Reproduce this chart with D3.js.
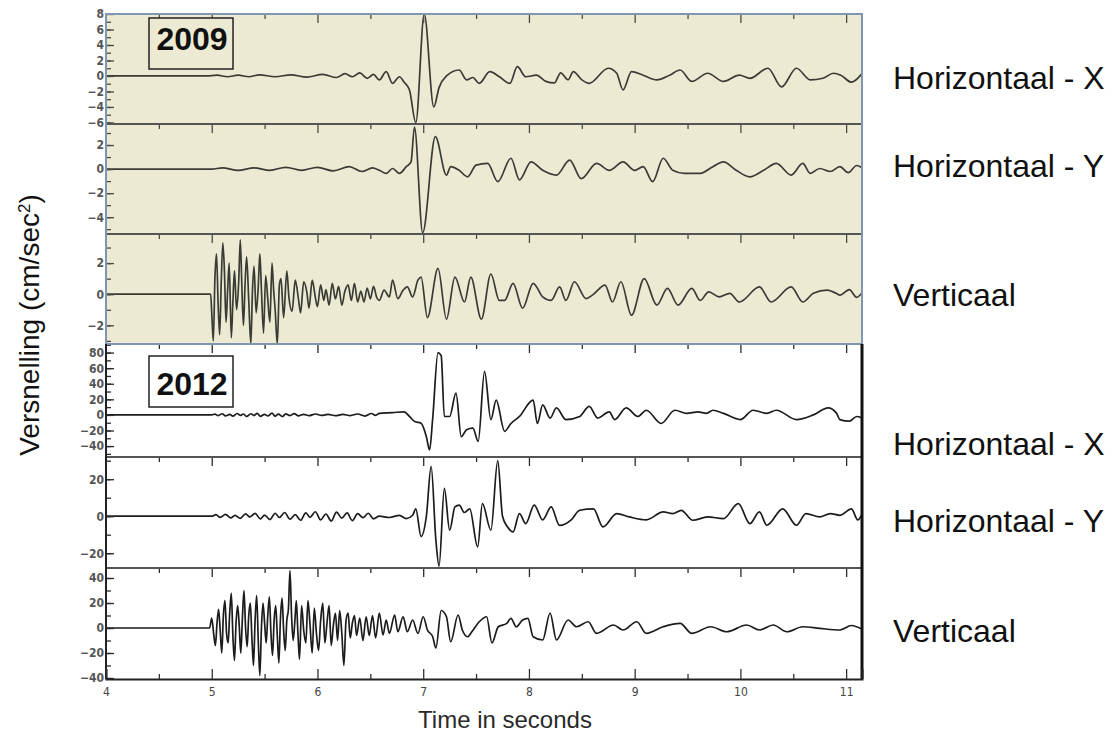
<!DOCTYPE html>
<html>
<head>
<meta charset="utf-8">
<script src="https://cdn.jsdelivr.net/npm/d3@7"></script>
<style>
body{margin:0;background:#fff;}
svg{display:block;font-family:"Liberation Sans",Arial,sans-serif;}
</style>
</head>
<body>
<svg id="chart" width="1112" height="735"></svg>
<script>
// time axis
var timeDomain=[4,11.15];
var timeTicks=[4,5,6,7,8,9,10,11];
var halfTicks=[4.5,5.5,6.5,7.5,8.5,9.5,10.5];

// panels, top to bottom
var years=["2009","2012"];
var panelNames=["Horizontaal - X","Horizontaal - Y","Verticaal","Horizontaal - X","Horizontaal - Y","Verticaal"];
var panelDomains=[[-6.2,8],[-5.4,3.75],[-3.2,3.87],[-54,91],[-28,32],[-40.8,48]];
var panelTickLabels=[[8,6,4,2,0,-2,-4,-6],[2,0,-2,-4],[2,0,-2],[80,60,40,20,0,-20,-40],[20,0,-20],[40,20,0,-20,-40]];
var panelMinorStep=[1,1,1,10,10,10];

// acceleration traces [seconds, cm/sec2]
var hx2009=[[4,0],[4.95,0],[5.05,0.1],[5.15,-0.1],[5.25,0.1],[5.35,-0.1],[5.45,0.15],[5.6,-0.1],[5.75,0.15],[5.9,-0.15],[6.05,0.2],[6.18,-0.2],[6.26,0.3],[6.33,-0.1],[6.4,0.4],[6.47,-0.3],[6.53,0.2],[6.585,-0.5],[6.65,0.56],[6.71,-0.95],[6.775,-0.1],[6.82,-0.8],[6.87,-1.8],[6.93,-6.0],[7.01,8.0],[7.1,-4.0],[7.15,-1.5],[7.22,0],[7.34,0.77],[7.41,-0.5],[7.47,-0.2],[7.53,-0.95],[7.63,0.56],[7.72,-0.1],[7.82,-0.95],[7.89,1.2],[7.97,-0.1],[8.07,0.1],[8.16,-0.7],[8.24,-0.9],[8.3,0.4],[8.37,-0.5],[8.42,0.56],[8.5,-0.5],[8.57,-0.95],[8.75,1.0],[8.83,0.35],[8.89,-1.8],[8.97,0.56],[9.08,0.1],[9.21,-0.5],[9.33,0.1],[9.43,0.77],[9.54,-0.7],[9.69,0.35],[9.84,-0.7],[9.99,0.1],[10.09,-0.3],[10.26,1.0],[10.39,-1.4],[10.53,1.0],[10.66,-0.5],[10.78,-0.3],[10.88,0.35],[10.95,0.1],[11.05,-0.8],[11.15,0.3]];
var hy2009=[[4,0],[5.0,0],[5.1,0.1],[5.25,-0.1],[5.4,0.1],[5.55,-0.1],[5.7,0.15],[5.85,-0.1],[6.0,0.15],[6.15,-0.15],[6.3,0.2],[6.42,-0.2],[6.52,0.1],[6.585,-0.1],[6.65,-0.36],[6.71,0.05],[6.775,-0.36],[6.84,0.2],[6.885,0.6],[6.917,3.5],[6.995,-5.3],[7.115,2.7],[7.22,-0.5],[7.26,0.2],[7.34,-0.1],[7.42,-0.64],[7.5,0.33],[7.61,0.47],[7.705,-1.05],[7.83,0.9],[7.91,-0.9],[8.02,0.6],[8.13,-0.1],[8.26,-0.5],[8.385,0.75],[8.495,-0.8],[8.64,0.47],[8.76,-0.1],[8.89,0.6],[9.0,-0.1],[9.08,0.2],[9.17,-1.05],[9.27,0.9],[9.36,-0.1],[9.47,-0.36],[9.62,-0.36],[9.74,0.2],[9.84,0.6],[9.96,-0.1],[10.09,-0.64],[10.22,-0.1],[10.34,0.47],[10.48,-0.5],[10.59,0.47],[10.66,-0.36],[10.75,0.05],[10.85,-0.2],[10.94,0.2],[11.02,-0.3],[11.1,0.3],[11.15,0.1]];
var vert2009=[[4,0],[4.99,0],[5.0,-1.2],[5.015,-3.0],[5.03,1.0],[5.045,2.6],[5.06,-0.5],[5.075,-2.6],[5.09,0.8],[5.105,3.3],[5.12,1.5],[5.135,-1.8],[5.15,0.2],[5.165,2.0],[5.185,-2.8],[5.2,-0.5],[5.215,1.5],[5.235,-1.0],[5.255,0.8],[5.27,3.5],[5.285,0.5],[5.3,-2.0],[5.315,0.6],[5.33,2.4],[5.35,-0.4],[5.37,-3.2],[5.385,0.2],[5.4,1.8],[5.42,-1.2],[5.44,0.5],[5.455,2.6],[5.47,0.3],[5.49,-2.5],[5.51,1.2],[5.53,-0.3],[5.55,-1.8],[5.57,2.0],[5.585,0.3],[5.6,-1.0],[5.62,-3.2],[5.64,0.6],[5.655,1.0],[5.68,-1.5],[5.71,1.5],[5.73,-0.2],[5.76,-1.1],[5.79,0.9],[5.82,-0.3],[5.84,-1.2],[5.87,0.8],[5.9,0.1],[5.92,-0.9],[5.95,0.9],[5.98,-0.2],[6.0,-0.8],[6.03,0.6],[6.06,-0.4],[6.08,0.3],[6.11,-0.7],[6.14,0.7],[6.17,-0.3],[6.2,0.5],[6.23,-0.7],[6.26,0.2],[6.29,0.6],[6.32,-0.4],[6.35,0.7],[6.38,-0.5],[6.41,0.2],[6.44,-0.5],[6.47,0.4],[6.5,-0.3],[6.53,0.5],[6.56,-0.2],[6.585,-0.4],[6.63,0.26],[6.68,-0.17],[6.71,0.9],[6.76,-0.28],[6.81,0.26],[6.85,0.47],[6.9,-0.17],[6.95,0.9],[6.98,1.1],[7.04,-1.5],[7.14,1.66],[7.22,-1.6],[7.3,1.1],[7.39,-0.5],[7.45,1.1],[7.55,-1.6],[7.64,1.3],[7.72,-0.4],[7.77,-0.4],[7.85,0.7],[7.94,-0.9],[8.04,0.7],[8.13,-0.17],[8.21,-0.4],[8.29,0.47],[8.35,-0.4],[8.43,0.8],[8.54,-0.28],[8.6,-0.06],[8.72,0.58],[8.79,-0.5],[8.87,0.8],[8.97,-1.35],[9.09,1.0],[9.21,-0.7],[9.31,0.37],[9.41,-0.7],[9.54,0.37],[9.62,-0.4],[9.7,0.15],[9.8,-0.17],[9.9,0.06],[9.99,-0.5],[10.18,0.47],[10.29,-0.5],[10.48,0.47],[10.59,-0.5],[10.69,0.06],[10.82,0.26],[10.91,0.04],[10.94,-0.06],[11.03,0.3],[11.1,-0.2],[11.15,0.1]];
var hx2012=[[4,0],[5.0,0],[5.03,1],[5.06,-0.8],[5.1,1.5],[5.13,-1.2],[5.17,0.6],[5.2,-1.5],[5.24,1.8],[5.27,-0.6],[5.3,1.2],[5.33,-2],[5.37,1.5],[5.4,-0.8],[5.43,2],[5.46,-1.8],[5.5,0.8],[5.53,-1.4],[5.57,2.2],[5.6,-1.6],[5.63,1],[5.67,-2],[5.7,1.4],[5.74,-0.8],[5.78,1.6],[5.82,-1.2],[5.87,0.8],[5.92,-1],[5.98,1.2],[6.04,-0.6],[6.1,0.8],[6.17,-1],[6.24,0.6],[6.31,-0.8],[6.38,1.2],[6.45,-1.5],[6.51,1.8],[6.55,-0.5],[6.585,2],[6.71,3],[6.82,4],[6.87,-2],[6.92,-8.6],[6.98,-10.7],[7.03,-28],[7.06,-45],[7.09,-4],[7.14,80],[7.17,76],[7.2,-2],[7.25,-2],[7.31,28],[7.36,-28],[7.41,-19],[7.47,-17],[7.52,-34],[7.58,56],[7.64,-6],[7.69,19],[7.77,-21],[7.83,-11],[7.91,-2],[8.04,19],[8.08,-11],[8.13,13],[8.2,-4],[8.26,9],[8.35,-6],[8.48,-2],[8.57,11],[8.65,-4],[8.76,4],[8.81,-6],[8.92,9],[9.03,-2],[9.11,6],[9.25,-11],[9.38,6],[9.49,2],[9.6,4],[9.68,2],[9.74,6],[9.84,2],[10.0,-6],[10.12,6],[10.25,2],[10.34,6],[10.53,-6],[10.69,0],[10.83,9],[10.91,2],[10.94,-6],[11.03,-8],[11.1,-2],[11.15,-4]];
var hy2012=[[4,0],[5.0,0],[5.04,0.8],[5.08,-0.6],[5.13,1],[5.18,-0.9],[5.22,0.5],[5.27,-1.2],[5.32,1.3],[5.36,-0.4],[5.41,1.5],[5.46,-1.4],[5.5,0.6],[5.55,-1.8],[5.6,1.6],[5.64,-0.7],[5.69,2],[5.74,-1.6],[5.79,0.8],[5.84,-2.2],[5.89,1.8],[5.93,-0.6],[5.98,2.4],[6.03,-2],[6.08,1.2],[6.13,-2.6],[6.18,2.2],[6.23,-1],[6.28,1.8],[6.33,-2.4],[6.38,1.4],[6.43,-0.8],[6.48,1.6],[6.53,-1.4],[6.585,0],[6.68,-0.7],[6.775,0.5],[6.84,-1.3],[6.9,0.5],[6.93,4],[6.98,-11],[7.03,0],[7.075,27],[7.12,-13],[7.15,-27],[7.2,15],[7.25,-7.6],[7.3,5],[7.34,6],[7.39,2],[7.44,4],[7.515,-16.6],[7.56,6.8],[7.64,-7.6],[7.705,30],[7.75,0],[7.8,-6],[7.85,-8.5],[7.91,1.4],[7.97,-4],[8.05,6],[8.13,-2],[8.21,5],[8.29,-5],[8.4,-2],[8.48,3.2],[8.61,4],[8.7,-5.8],[8.83,1.4],[8.95,-0.4],[9.11,-2],[9.27,2.3],[9.36,1.4],[9.44,3.2],[9.55,-2.2],[9.69,-0.4],[9.84,-1.3],[9.98,6.8],[10.09,-4],[10.18,2.3],[10.25,-4.9],[10.4,4],[10.53,-4.9],[10.62,1.4],[10.75,-0.4],[10.85,1.4],[10.94,0.5],[11.05,4],[11.11,-2],[11.15,1]];
var vert2012=[[4,0],[4.98,0],[5.0,8],[5.02,-6],[5.035,-14],[5.05,4],[5.065,15],[5.08,-2],[5.095,-20],[5.11,10],[5.125,22],[5.14,-4],[5.155,-12],[5.17,12],[5.185,28],[5.2,-6],[5.215,-26],[5.23,4],[5.245,18],[5.26,2],[5.275,-20],[5.29,8],[5.305,30],[5.32,0],[5.335,-15],[5.35,10],[5.365,20],[5.38,-8],[5.395,-30],[5.41,6],[5.425,26],[5.44,-10],[5.455,-38],[5.47,0],[5.485,20],[5.5,4],[5.515,-12],[5.53,10],[5.545,25],[5.56,-4],[5.575,-22],[5.59,6],[5.605,18],[5.62,-6],[5.635,-28],[5.65,8],[5.665,24],[5.68,-2],[5.695,-18],[5.71,6],[5.725,15],[5.74,46],[5.755,10],[5.77,-10],[5.785,4],[5.8,22],[5.815,-4],[5.83,-25],[5.85,18],[5.87,-2],[5.89,-12],[5.91,22],[5.93,2],[5.95,-20],[5.97,16],[5.99,-4],[6.01,-18],[6.03,6],[6.05,20],[6.07,-12],[6.09,4],[6.11,18],[6.13,-14],[6.15,2],[6.17,12],[6.19,-10],[6.21,14],[6.23,-4],[6.25,-30],[6.27,6],[6.29,12],[6.31,-8],[6.33,4],[6.35,10],[6.37,-6],[6.4,8],[6.43,-10],[6.46,9],[6.49,-6],[6.52,10],[6.55,-8],[6.585,12],[6.62,-5.6],[6.65,6.4],[6.68,-4.3],[6.73,10.4],[6.76,-3],[6.81,9],[6.85,-3],[6.9,6.4],[6.95,-4.3],[7.0,9],[7.04,-1.6],[7.09,-7],[7.12,-16],[7.17,14],[7.22,9],[7.26,-11],[7.33,10.4],[7.37,-1.6],[7.42,-7],[7.46,-3],[7.53,5],[7.6,9],[7.65,-12],[7.71,1],[7.79,3.7],[7.83,7.7],[7.88,1],[7.94,6.4],[7.99,7.7],[8.04,-7],[8.13,-9.6],[8.2,12],[8.26,-9.6],[8.37,6.4],[8.45,1],[8.56,5],[8.64,-4.3],[8.8,2.4],[8.89,-1.6],[9.02,5],[9.11,-4.3],[9.27,1],[9.43,3.7],[9.54,-4.3],[9.72,1],[9.87,-3],[10.06,2.4],[10.18,-1.6],[10.31,2.4],[10.44,-3],[10.59,1],[10.75,-0.3],[10.94,-1.6],[11.05,2],[11.15,-1]];
var traces=[hx2009,hy2009,vert2009,hx2012,hy2012,vert2012];

var svg=d3.select("#chart");
var left=106,right=862;
var panelTop=[14,124,234,344,457,568];
var panelBottom=[124,234,344,457,568,679];
var nameBaseline=[89,177,306,455,532,642];

var x=d3.scaleLinear().domain(timeDomain).range([left,right]);

// background of the 2009 record
svg.append("rect").attr("x",left).attr("y",panelTop[0]).attr("width",right-left).attr("height",panelTop[3]-panelTop[0]).attr("fill","#edead3");

var defs=svg.append("defs");

for(var i=0;i<6;i++){
	var y=d3.scaleLinear().domain(panelDomains[i]).range([panelBottom[i],panelTop[i]]);
	var g=svg.append("g");
	var ink=i<3?"#4a4a44":"#2a2a2a";

	defs.append("clipPath").attr("id","clip"+i).append("rect")
		.attr("x",left).attr("y",panelTop[i]-1).attr("width",right-left).attr("height",panelBottom[i]-panelTop[i]+2);

	// trace
	var line=d3.line().x(function(d){return x(d[0]);}).y(function(d){return y(d[1]);}).curve(d3.curveMonotoneX);
	g.append("path").datum(traces[i]).attr("d",line)
		.attr("clip-path","url(#clip"+i+")")
		.attr("fill","none").attr("stroke",i<3?"#3b3b36":"#1c1c1c").attr("stroke-width",1.7).attr("stroke-linejoin","round");

	// time ticks at the top of each panel
	var tMajor=g.append("g").attr("transform","translate(0,"+panelTop[i]+")")
		.call(d3.axisTop(x).tickValues(timeTicks.slice(1)).tickSize(-9).tickFormat(""));
	var tMinor=g.append("g").attr("transform","translate(0,"+panelTop[i]+")")
		.call(d3.axisTop(x).tickValues(halfTicks).tickSize(-5).tickFormat(""));
	[tMajor,tMinor].forEach(function(a){
		a.select(".domain").remove();
		a.selectAll("line").attr("stroke",ink).attr("stroke-width",1.3);
	});

	// value axis
	var minor=d3.range(Math.ceil(panelDomains[i][0]/panelMinorStep[i])*panelMinorStep[i],panelDomains[i][1],panelMinorStep[i]);
	var yMinor=g.append("g").attr("transform","translate("+left+",0)")
		.call(d3.axisLeft(y).tickValues(minor).tickSize(-5).tickFormat(""));
	var yMajor=g.append("g").attr("transform","translate("+left+",0)")
		.call(d3.axisLeft(y).tickValues(panelTickLabels[i]).tickSize(-8).tickPadding(2).tickFormat(d3.format("d")));
	[yMinor,yMajor].forEach(function(a){
		a.select(".domain").remove();
		a.selectAll("line").attr("stroke",ink).attr("stroke-width",1.3);
	});
	yMajor.selectAll("text").attr("font-family","'DejaVu Sans Condensed','DejaVu Sans',sans-serif")
		.attr("font-size",12).attr("font-weight","bold").attr("fill","#555");

	// panel separator
	if(i>0){
		svg.append("line").attr("x1",left).attr("x2",right).attr("y1",panelTop[i]).attr("y2",panelTop[i])
			.attr("stroke",i==3?"#8a9cb3":"#555").attr("stroke-width",2);
	}

	// channel name
	svg.append("text").attr("x",893).attr("y",nameBaseline[i])
		.attr("font-size",32).attr("fill","#111").text(panelNames[i]);
}

// frames
svg.append("rect").attr("x",left).attr("y",panelTop[0]).attr("width",right-left).attr("height",panelTop[3]-panelTop[0])
	.attr("fill","none").attr("stroke","#7f96b3").attr("stroke-width",2);
svg.append("line").attr("x1",left).attr("x2",left).attr("y1",panelTop[3]).attr("y2",panelBottom[5]).attr("stroke","#222").attr("stroke-width",2);
svg.append("line").attr("x1",right).attr("x2",right).attr("y1",panelTop[3]).attr("y2",panelBottom[5]).attr("stroke","#111").attr("stroke-width",3);

// bottom time axis
var xMinor=svg.append("g").attr("transform","translate(0,"+panelBottom[5]+")")
	.call(d3.axisBottom(x).tickValues(halfTicks).tickSize(-5).tickFormat(""));
var xMajor=svg.append("g").attr("transform","translate(0,"+panelBottom[5]+")")
	.call(d3.axisBottom(x).tickValues(timeTicks).tickSize(-10).tickPadding(8));
xMajor.select(".domain").attr("stroke","#222").attr("stroke-width",2);
xMinor.select(".domain").remove();
xMajor.selectAll("line").attr("stroke","#333").attr("stroke-width",1.3);
xMinor.selectAll("line").attr("stroke","#333").attr("stroke-width",1.3);
xMajor.selectAll("text").attr("font-family","'DejaVu Sans Condensed','DejaVu Sans',sans-serif")
	.attr("font-size",12).attr("fill","#444");

// year boxes
var boxTops=[18,356];
years.forEach(function(yr,k){
	svg.append("rect").attr("x",149).attr("y",boxTops[k]).attr("width",84).attr("height",51)
		.attr("fill",k==0?"#edead3":"#fff").attr("stroke","#222").attr("stroke-width",1.5);
	svg.append("text").attr("x",192).attr("y",boxTops[k]+(k==0?32:39)).attr("text-anchor","middle")
		.attr("font-size",32).attr("font-weight","bold").attr("fill","#111").text(yr);
});

// axis titles
var yl=svg.append("text").attr("transform","translate(39,325) rotate(-90)").attr("text-anchor","middle")
	.attr("font-size",28).attr("fill","#111");
yl.append("tspan").text("Versnelling (cm/sec");
yl.append("tspan").attr("font-size",17).attr("baseline-shift","super").text("2");
yl.append("tspan").text(")");

svg.append("text").attr("x",505).attr("y",728).attr("text-anchor","middle")
	.attr("font-size",24).attr("fill","#2a2a2a").text("Time in seconds");
</script>
</body>
</html>
